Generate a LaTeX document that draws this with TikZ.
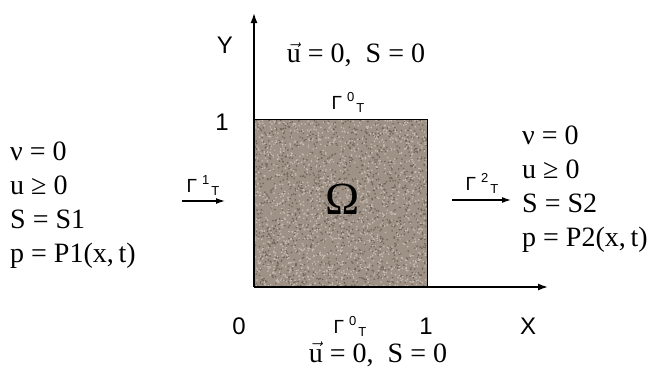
\documentclass[tikz,border=0pt]{standalone}
\usepackage{fontspec}
\setmainfont{Liberation Serif}
\newfontfamily\axisfont{Liberation Sans}
\usetikzlibrary{arrows.meta}

\definecolor{granite}{RGB}{158,146,134}
\definecolor{graindark}{RGB}{112,100,90}
\definecolor{grainlight}{RGB}{198,189,180}

\newcommand{\bndname}[1]{Γ\hspace{5pt}\raisebox{8pt}{\fontsize{13}{13}\selectfont #1}\hspace{2pt}\raisebox{-3pt}{\fontsize{13}{13}\selectfont T}}

\tikzset{
    cond/.style={font=\fontsize{28}{32}\selectfont, inner sep=0pt},
    axislabel/.style={font=\axisfont\fontsize{24}{26}\selectfont, inner sep=0pt},
    bndlabel/.style={font=\axisfont\fontsize{19}{22}\selectfont, inner sep=0pt},
    axisline/.style={line width=1.5pt, -{Latex[length=10pt,width=7pt]}},
    flowline/.style={line width=1.3pt, -{Latex[length=9pt,width=6pt]}},
}

\begin{document}
\begin{tikzpicture}[x=1pt, y=-1pt]
    \useasboundingbox (0,0) rectangle (656,370);
    \coordinate (origin) at (254,287);
    \coordinate (corner) at (427,119);
    \coordinate (y-tip) at (254,13);
    \coordinate (x-tip) at (548,287);
    % the domain, grainy fill
    \begin{scope}
        \clip (origin) rectangle (corner);
        \fill[granite] (origin) rectangle (corner);
        \pgfmathsetseed{42}
        \foreach \i in {1,...,1500}
            \fill[graindark] ({254+173*rnd},{119+168*rnd}) circle (0.9pt);
        \foreach \i in {1,...,1500}
            \fill[grainlight] ({254+173*rnd},{119+168*rnd}) circle (0.9pt);
    \end{scope}
    \draw[line width=1pt] (origin |- corner) -- (corner) -- (corner |- origin);
    \draw[axisline] (origin) -- (y-tip);
    \draw[axisline] (origin) -- (x-tip);
    \node[font=\fontsize{46}{50}\selectfont, inner sep=0pt] (omega) at (343,199) {Ω};
    % axis labels
    \node[axislabel] (y-label) at (225,45) {Y};
    \node[axislabel] (y-one) at (222,122) {1};
    \node[axislabel] (zero) at (239,326) {0};
    \node[axislabel] (x-one) at (426,326) {1};
    \node[axislabel] (x-label) at (528,326) {X};
    % boundaries
    \node[bndlabel] (gamma-top) at (348,102) {\bndname{0}};
    \node[bndlabel] (gamma-bottom) at (350,326) {\bndname{0}};
    \node[bndlabel] (gamma-in) at (203,186) {\bndname{1}};
    \node[bndlabel] (gamma-out) at (482,183) {\bndname{2}};
    \coordinate (in-start) at (182,201);
    \coordinate (in-end) at (225,201);
    \coordinate (out-start) at (452,200);
    \coordinate (out-end) at (511,200);
    \draw[flowline] (in-start) -- (in-end);
    \draw[flowline] (out-start) -- (out-end);
    % boundary conditions
    \node[cond] (wall-top) at (356,55) {$\vec{\hbox{u}}$ = 0,\enspace S = 0};
    \node[cond, anchor=base] (wall-bottom) at (378,362) {$\vec{\hbox{u}}$ = 0,\enspace S = 0};
    \foreach \line [count=\k] in {{ν = 0},{u ≥ 0},{S = S1},{p = P1(x,\,t)}}
        \node[cond, anchor=base west] (inlet-\k) at (10,{126+34*\k}) {\line};
    \foreach \line [count=\k] in {{ν = 0},{u ≥ 0},{S = S2},{p = P2(x,\,t)}}
        \node[cond, anchor=base west] (outlet-\k) at (522,{110+34*\k}) {\line};
\end{tikzpicture}
\end{document}
